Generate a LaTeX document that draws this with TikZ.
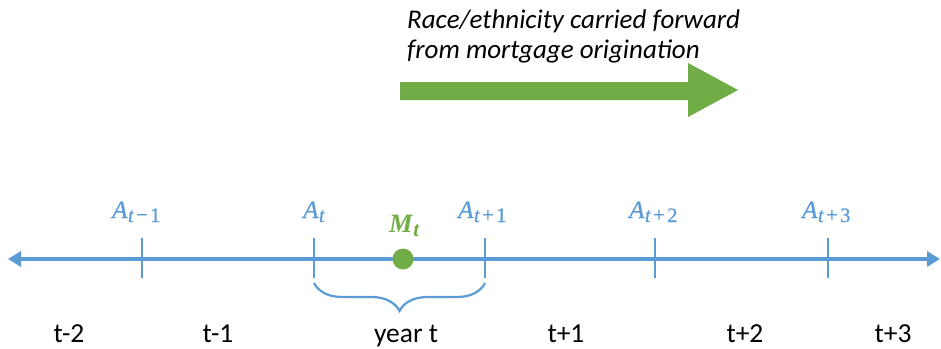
\documentclass[tikz,border=0pt]{standalone}
\usepackage{fontspec}
\setmainfont{Carlito}
\newfontfamily\lserif[FakeBold=0.8]{Liberation Serif}
\newfontfamily\lserifbold{Liberation Serif}
\usetikzlibrary{arrows.meta,decorations.pathreplacing}
\definecolor{axblue}{HTML}{5B9BD5}
\definecolor{mgreen}{HTML}{70AD47}
\newcommand\Alab[1]{{\fontsize{25}{28}\selectfont\lserif\itshape A}\kern0.5pt\raisebox{-4pt}{\fontsize{20.5}{22}\selectfont\lserif #1}}
\newcommand\subt{{\itshape t}}
\newcommand\mminus{\kern2.5pt\raisebox{0.5pt}{−}\kern2.5pt}
\newcommand\mplus{\kern2.5pt\raisebox{0.5pt}{+}\kern2.5pt}
\tikzset{
  axis/.style={draw=axblue, line width=3.5pt},
  tickmark/.style={draw=axblue, line width=2.2pt},
  alabel/.style={text=axblue, inner sep=0pt, anchor=base west},
  yearlabel/.style={font=\fontsize{27.5}{32}\selectfont, inner sep=0pt, anchor=base},
  captext/.style={font=\fontsize{27}{30}\selectfont\itshape, inner sep=0pt, anchor=base west},
}
\begin{document}
\begin{tikzpicture}[x=1pt,y=-1pt]
\useasboundingbox (0,0) rectangle (941,348);
% top caption
\node[captext] (cap1) at (407,28) {Race/ethnicity carried forward};
\node[captext] (cap2) at (407,58) {from mortgage origination};
% green arrow
\fill[mgreen] (400,82) -- (688,82) -- (688,63) -- (738,90) -- (688,117) -- (688,100) -- (400,100) -- cycle;
% axis
\coordinate (L) at (8,259);
\coordinate (R) at (940,259);
\draw[axis, {Triangle[length=13pt,width=15pt]}-{Triangle[length=13pt,width=15pt]}] (L) -- (R);
% ticks
\coordinate (atop) at (142,238); \coordinate (abot) at (142,278);
\coordinate (btop) at (314,238); \coordinate (bbot) at (314,278);
\coordinate (ctop) at (485,238); \coordinate (cbot) at (485,278);
\coordinate (dtop) at (655,238); \coordinate (dbot) at (655,278);
\coordinate (etop) at (828,238); \coordinate (ebot) at (828,278);
\draw[tickmark] (atop) -- (abot);
\draw[tickmark] (btop) -- (bbot);
\draw[tickmark] (ctop) -- (cbot);
\draw[tickmark] (dtop) -- (dbot);
\draw[tickmark] (etop) -- (ebot);
% A labels
\node[alabel] (Atm1) at (112,218) {\Alab{\subt\mminus 1}};
\node[alabel] (At) at (303,218) {\Alab{\subt}};
\node[alabel] (Atp1) at (458,218) {\Alab{\subt\mplus 1}};
\node[alabel] (Atp2) at (629,218) {\Alab{\subt\mplus 2}};
\node[alabel] (Atp3) at (802,218) {\Alab{\subt\mplus 3}};
% M_t
\node[text=mgreen, inner sep=0pt, anchor=base west] (Mt) at (389,232) {{\fontsize{26.5}{28}\selectfont\lserifbold\bfseries\itshape M}\kern0.5pt\raisebox{-4pt}{\fontsize{21}{22}\selectfont\lserifbold\bfseries\itshape t}};
\node[circle, fill=mgreen, minimum size=21pt, inner sep=0pt] (dot) at (403,259) {};
% brace
\coordinate (bl) at (314,283);
\coordinate (br) at (485,283);
\draw[draw=axblue, line width=2.2pt, decorate, decoration={brace, mirror, amplitude=28pt}] (bl) -- (br);
% bottom labels
\node[yearlabel] (y1) at (69,342) {t-2};
\node[yearlabel] (y2) at (218,342) {t-1};
\node[yearlabel] (y3) at (406,342) {year t};
\node[yearlabel] (y4) at (566,342) {t+1};
\node[yearlabel] (y5) at (745,342) {t+2};
\node[yearlabel] (y6) at (893,342) {t+3};
\end{tikzpicture}
\end{document}
